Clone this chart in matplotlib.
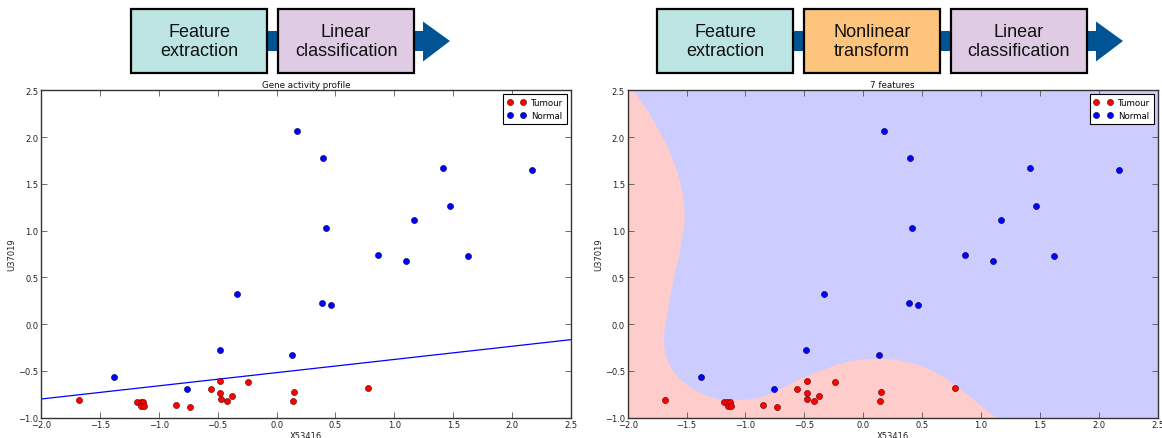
import matplotlib
matplotlib.use("Agg")
import matplotlib.pyplot as plt
from matplotlib.patches import Rectangle, Polygon

# Expression of the two genes per sample
tumour_x = [-1.68, -1.186, -1.155, -1.13, -1.15, -1.127, -0.852, -0.735, -0.56,
            -0.48, -0.48, -0.475, -0.42, -0.38, -0.24, 0.138, 0.152, 0.775]
tumour_y = [-0.81, -0.83, -0.83, -0.83, -0.87, -0.88, -0.867, -0.89, -0.69,
            -0.61, -0.735, -0.796, -0.82, -0.767, -0.62, -0.817, -0.72, -0.68]
normal_x = [-1.38, -0.758, -0.483, -0.333, 0.134, 0.387, 0.463, 1.10, 0.174,
            0.398, 0.418, 1.416, 1.47, 1.167, 0.863, 1.622, 2.17]
normal_y = [-0.567, -0.696, -0.278, 0.321, -0.332, 0.222, 0.203, 0.68, 2.063,
            1.774, 1.024, 1.667, 1.267, 1.11, 0.742, 0.725, 1.647]

# Linear decision boundary in the raw feature space
linear_x = [-2.0, 2.5]
linear_y = [-0.80, -0.165]

# Decision boundary after the nonlinear transform (tumour side on the left/bottom)
boundary_x = [-1.953, -1.89, -1.825, -1.76, -1.703, -1.652, -1.613, -1.578, -1.55,
              -1.528, -1.515, -1.517, -1.528, -1.545, -1.56, -1.583, -1.607, -1.645,
              -1.68, -1.692, -1.69, -1.66, -1.613, -1.56, -1.486, -1.42, -1.33,
              -1.23, -1.132, -1.0, -0.877, -0.79, -0.707, -0.62, -0.537, -0.45,
              -0.37, -0.255, -0.14, -0.028, 0.07, 0.17, 0.30, 0.453, 0.60,
              0.736, 0.85, 0.963, 1.05, 1.132]
boundary_y = [2.50, 2.39, 2.27, 2.13, 2.00, 1.875, 1.75, 1.625, 1.50,
              1.36, 1.21, 1.10, 1.00, 0.875, 0.75, 0.625, 0.50, 0.25,
              0.00, -0.14, -0.25, -0.40, -0.50, -0.58, -0.66, -0.71, -0.767,
              -0.80, -0.814, -0.81, -0.785, -0.745, -0.696, -0.64, -0.582, -0.54,
              -0.505, -0.446, -0.405, -0.382, -0.370, -0.368, -0.385, -0.428, -0.505,
              -0.607, -0.715, -0.838, -0.92, -1.0]

xticks = [-2.0, -1.5, -1.0, -0.5, 0.0, 0.5, 1.0, 1.5, 2.0, 2.5]
yticks = [-1.0, -0.5, 0.0, 0.5, 1.0, 1.5, 2.0, 2.5]

RED = "#ff0000"
BLUE = "#0000ff"
PINK = "#ffcccc"
LAVENDER = "#ccccff"
ARROW = "#005494"
TEAL_BOX = "#bce4e2"
ORANGE_BOX = "#fcc47c"
PURPLE_BOX = "#dfcce4"

plt.rcParams["font.family"] = "DejaVu Sans"
plt.rcParams["axes.unicode_minus"] = True

fig = plt.figure(figsize=(11.62, 4.39), dpi=100, facecolor="white")

# pipeline diagrams drawn in pixel-like coordinates
diag = fig.add_axes([0, 0, 1, 1])
diag.set_xlim(0, 1162)
diag.set_ylim(439, 0)
diag.axis("off")


def pipeline(ax, left, labels, colors):
    w, h, gap, top = 136, 64, 11, 10
    n = len(labels)
    last_right = left + n * w + (n - 1) * gap
    base = last_right + 9
    tip = base + 27
    ax.add_patch(Rectangle((left + w, 32), base - left - w, 20,
                           facecolor=ARROW, edgecolor="none", zorder=1))
    ax.add_patch(Polygon([(base, 22.5), (tip, 42), (base, 62.5)], closed=True,
                         facecolor=ARROW, edgecolor="none", zorder=1))
    for i, (label, color) in enumerate(zip(labels, colors)):
        x0 = left + i * (w + gap)
        ax.add_patch(Rectangle((x0, top), w, h, facecolor=color,
                               edgecolor="black", linewidth=1.6, zorder=2))
        ax.text(x0 + w / 2, top + h / 2, label, ha="center", va="center",
                fontsize=13, family="Liberation Sans", color="#111111",
                linespacing=1.2, zorder=3)


pipeline(diag, 131, ["Feature\nextraction", "Linear\nclassification"],
         [TEAL_BOX, PURPLE_BOX])
pipeline(diag, 657, ["Feature\nextraction", "Nonlinear\ntransform",
                     "Linear\nclassification"],
         [TEAL_BOX, ORANGE_BOX, PURPLE_BOX])


def style_axes(ax, title):
    ax.set_xlim(-2.0, 2.5)
    ax.set_ylim(-1.0, 2.5)
    ax.set_xticks(xticks)
    ax.set_yticks(yticks)
    ax.tick_params(direction="in", top=True, right=True, length=4, width=0.6,
                   color="#555555", labelsize=6, labelcolor="#222222", pad=2)
    for spine in ax.spines.values():
        spine.set_color("#333333")
        spine.set_linewidth(1.0)
    ax.set_title(title, fontsize=6.3, pad=2.5, color="#111111")
    ax.set_xlabel("X53416", fontsize=6, color="#222222", labelpad=1)
    ax.set_ylabel("U37019", fontsize=6, color="#222222", labelpad=1)
    leg = ax.legend(loc="upper right", numpoints=2, fontsize=6.2, fancybox=False,
                    framealpha=1, edgecolor="black", borderpad=0.45,
                    handlelength=2.2, handletextpad=0.6, labelspacing=0.45,
                    borderaxespad=0.45)
    leg.get_frame().set_linewidth(0.8)


def scatter_points(ax):
    ax.plot(tumour_x, tumour_y, "o", color=RED, ms=4.4, mec="#550000", mew=0.4,
            label="Tumour", zorder=3)
    ax.plot(normal_x, normal_y, "o", color=BLUE, ms=4.4, mec="#000055", mew=0.4,
            label="Normal", zorder=3)


ax1 = fig.add_axes([0.0353, 0.0462, 0.4561, 0.7454])
ax1.plot(linear_x, linear_y, color=BLUE, linewidth=0.9, zorder=2)
scatter_points(ax1)
style_axes(ax1, "Gene activity profile")

ax2 = fig.add_axes([0.5402, 0.0462, 0.4561, 0.7454])
ax2.set_facecolor(LAVENDER)
region_x = boundary_x + [-2.0, -2.0]
region_y = boundary_y + [-1.0, 2.5]
ax2.fill(region_x, region_y, color=PINK, linewidth=0, zorder=1)
scatter_points(ax2)
style_axes(ax2, "7 features")

fig.savefig("out.png", dpi=100, facecolor="white")
